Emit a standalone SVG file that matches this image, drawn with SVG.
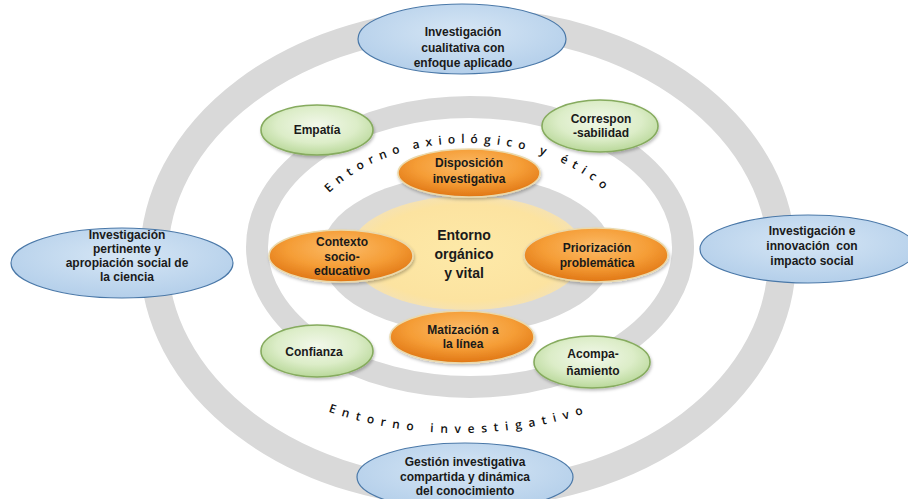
<svg xmlns="http://www.w3.org/2000/svg" width="908" height="499" viewBox="0 0 908 499">
<defs>
<style>
.ring{fill:none;stroke:#d9d9d9}
.t{font-family:"Liberation Sans",Arial,sans-serif;font-weight:bold;font-size:12px;fill:#1a1a1a;text-anchor:middle}
.tc{font-family:"Liberation Sans",Arial,sans-serif;font-weight:bold;font-size:14px;fill:#1a1a1a;text-anchor:middle}
.arc{font-family:"Open Sans","Liberation Sans",sans-serif;font-weight:600;font-size:12px;fill:#111;letter-spacing:6px}
.arcb{font-family:"Open Sans","Liberation Sans",sans-serif;font-weight:600;font-size:12px;fill:#111;letter-spacing:6.8px}
.blue{fill:url(#gBlue);stroke:#4a78a8;stroke-width:1.2}
.green{fill:url(#gGreen);stroke:#86ab5e;stroke-width:1.6;filter:url(#sh)}
.orange{fill:url(#gOrange);stroke:#ead9ac;stroke-width:1.6;filter:url(#sh)}
</style>
<radialGradient id="gBlue" cx="50%" cy="40%" r="60%">
<stop offset="0" stop-color="#d6e6f5"/><stop offset="1" stop-color="#b4cfea"/>
</radialGradient>
<radialGradient id="gGreen" cx="50%" cy="40%" r="60%">
<stop offset="0" stop-color="#f2f8ea"/><stop offset="0.6" stop-color="#dcedc8"/><stop offset="1" stop-color="#b9d89a"/>
</radialGradient>
<radialGradient id="gOrange" cx="50%" cy="35%" r="62%">
<stop offset="0" stop-color="#fbbb68"/><stop offset="0.6" stop-color="#f59d36"/><stop offset="1" stop-color="#e27a18"/>
</radialGradient>
<radialGradient id="gYellow" cx="50%" cy="50%" r="50%">
<stop offset="0" stop-color="#fde9a8"/><stop offset="0.85" stop-color="#fce3a0"/><stop offset="1" stop-color="#f6e2b0"/>
</radialGradient>
<filter id="sh" x="-20%" y="-20%" width="140%" height="150%">
<feDropShadow dx="1" dy="2" stdDeviation="1.5" flood-color="#000" flood-opacity="0.25"/>
</filter>
<path id="arcTop" d="M 300,258 A 168,115 0 0 1 636,258"/>
<path id="arcBot" d="M 184,255 A 275,178 0 0 0 734,255"/>
</defs>
<rect width="908" height="499" fill="#ffffff"/>
<g id="rings">
<ellipse class="ring" cx="468" cy="258" rx="314" ry="236" stroke-width="28"/>
<ellipse class="ring" cx="470" cy="247" rx="213" ry="140" stroke-width="22"/>
<ellipse cx="467" cy="254" rx="146" ry="79" fill="#d9d9d9"/>
<ellipse cx="467" cy="253" rx="118" ry="57" fill="url(#gYellow)"/>
</g>
<g id="arc-labels">
<text class="arc"><textPath href="#arcTop" startOffset="73">Entorno</textPath></text>
<text class="arc"><textPath href="#arcTop" startOffset="169">axiológico</textPath></text>
<text class="arc"><textPath href="#arcTop" startOffset="296">y</textPath></text>
<text class="arc"><textPath href="#arcTop" startOffset="318">ético</textPath></text>
<text class="arcb"><textPath href="#arcBot" startOffset="50%" text-anchor="middle">Entorno investigativo</textPath></text>
</g>
<g id="connectors"></g>
<g id="center">
<text class="tc" x="464" y="240">Entorno</text>
<text class="tc" x="464" y="259">orgánico</text>
<text class="tc" x="464" y="278">y vital</text>
</g>
<g id="n-top">
<ellipse class="blue" cx="462" cy="39" rx="104" ry="35"/>
<text class="t" x="463" y="36">Investigación</text>
<text class="t" x="463" y="52">cualitativa con</text>
<text class="t" x="463" y="67">enfoque aplicado</text>
</g>
<g id="n-left">
<ellipse class="blue" cx="122" cy="263" rx="111" ry="35"/>
<text class="t" x="127" y="239">Investigación</text>
<text class="t" x="127" y="253">pertinente y</text>
<text class="t" x="127" y="267">apropiación social de</text>
<text class="t" x="127" y="281">la ciencia</text>
</g>
<g id="n-right">
<ellipse class="blue" cx="808" cy="249" rx="108" ry="34"/>
<text class="t" x="812" y="235">Investigación e</text>
<text class="t" x="812" y="250" xml:space="preserve">innovación  con</text>
<text class="t" x="812" y="265">impacto social</text>
</g>
<g id="n-bottom">
<ellipse class="blue" cx="465" cy="477" rx="108" ry="34"/>
<text class="t" x="465" y="466">Gestión investigativa</text>
<text class="t" x="465" y="481">compartida y dinámica</text>
<text class="t" x="465" y="495">del conocimiento</text>
</g>
<g id="n-empatia">
<ellipse class="green" cx="317" cy="130" rx="56" ry="25"/>
<text class="t" x="317" y="134">Empatía</text>
</g>
<g id="n-correspon">
<ellipse class="green" cx="600" cy="126" rx="58" ry="26"/>
<text class="t" x="601" y="123">Correspon</text>
<text class="t" x="601" y="137">-sabilidad</text>
</g>
<g id="n-confianza">
<ellipse class="green" cx="317" cy="351" rx="56" ry="26"/>
<text class="t" x="314" y="356">Confianza</text>
</g>
<g id="n-acompa">
<ellipse class="green" cx="592" cy="362" rx="58" ry="26"/>
<text class="t" x="593" y="358">Acompa-</text>
<text class="t" x="593" y="375">ñamiento</text>
</g>
<g id="n-disposicion">
<ellipse class="orange" cx="469" cy="173" rx="71" ry="24"/>
<text class="t" x="469" y="167">Disposición</text>
<text class="t" x="469" y="183">investigativa</text>
</g>
<g id="n-contexto">
<ellipse class="orange" cx="341" cy="256" rx="72" ry="26"/>
<text class="t" x="342" y="246">Contexto</text>
<text class="t" x="342" y="261">socio-</text>
<text class="t" x="342" y="275">educativo</text>
</g>
<g id="n-priorizacion">
<ellipse class="orange" cx="596" cy="255" rx="72" ry="27"/>
<text class="t" x="597" y="252">Priorización</text>
<text class="t" x="597" y="267">problemática</text>
</g>
<g id="n-matizacion">
<ellipse class="orange" cx="462" cy="337" rx="72" ry="26"/>
<text class="t" x="463" y="334">Matización a</text>
<text class="t" x="463" y="348">la línea</text>
</g>
</svg>
